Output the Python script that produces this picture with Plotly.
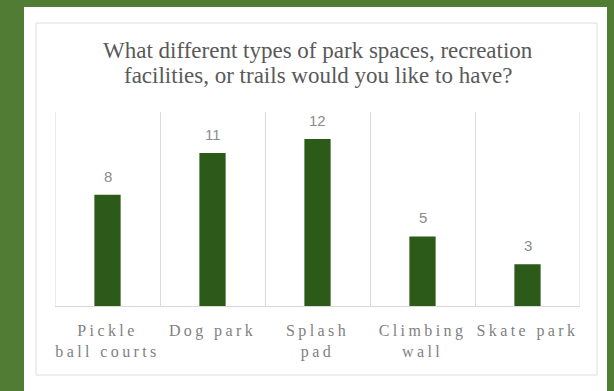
import plotly.graph_objects as go

# Survey responses: requested park spaces / facilities
categories = ["Pickle<br>ball courts", "Dog park", "Splash<br>pad", "Climbing<br>wall", "Skate park"]
responses = [8, 11, 12, 5, 3]
title_lines = [
    "What different types of park spaces, recreation",
    "facilities, or trails would you like to have?",
]

W, H = 614, 391
M_L, M_R, M_T, M_B = 55, 34, 112, 85
PW, PH = W - M_L - M_R, H - M_T - M_B


def px_x(px):
    return (px - M_L) / PW


def px_y(py):
    return (H - M_B - py) / PH


BAR_GREEN = "#2c5a18"
FRAME_GREEN = "#507c33"
GRID = "#d9d9d9"

fig = go.Figure()
fig.add_trace(go.Bar(
    x=categories,
    y=responses,
    marker=dict(color=BAR_GREEN, line=dict(width=0)),
    hoverinfo="skip",
))

# value labels above each bar
for cat, val in zip(categories, responses):
    fig.add_annotation(
        x=cat, y=val, text=str(val), showarrow=False,
        yanchor="bottom", yshift=8,
        font=dict(family="Liberation Sans", size=15, color="#8c8c8c"),
    )

# two-line chart title, set as separate lines for tighter leading
TITLE_SIZE = 23
for i, line in enumerate(title_lines):
    baseline = 58 + 25 * i
    fig.add_annotation(
        xref="paper", yref="paper", x=px_x(317.5), y=px_y(baseline - 0.3375 * TITLE_SIZE),
        text=line, showarrow=False, xanchor="center", yanchor="middle",
        font=dict(family="Liberation Serif", size=TITLE_SIZE, color="#595959"),
    )

# white card and its thin light frame
fig.add_shape(type="rect", xref="paper", yref="paper", layer="below",
              x0=px_x(24), x1=px_x(607), y0=px_y(H + 5), y1=px_y(7),
              fillcolor="white", line=dict(width=0))
fig.add_shape(type="rect", xref="paper", yref="paper", layer="below",
              x0=px_x(36), x1=px_x(597), y0=px_y(375), y1=px_y(23),
              fillcolor="rgba(0,0,0,0)", line=dict(color="#dcdcdc", width=1))

# outer category dividers at both plot edges
for edge in (-0.5, len(categories) - 0.5):
    fig.add_shape(type="line", xref="x", yref="paper", layer="below",
                  x0=edge, x1=edge, y0=0, y1=1,
                  line=dict(color=GRID, width=1))

fig.update_layout(
    width=W, height=H,
    margin=dict(l=M_L, r=M_R, t=M_T, b=M_B),
    paper_bgcolor=FRAME_GREEN,
    plot_bgcolor="rgba(0,0,0,0)",
    bargap=0.75,
    showlegend=False,
    xaxis=dict(
        tickson="boundaries", showgrid=True, gridcolor=GRID, gridwidth=1,
        showline=True, linecolor=GRID, linewidth=1,
        ticks="", ticklabelstandoff=10,
        tickfont=dict(family="Liberation Serif", size=16, color="#7f7f7f"),
        range=[-0.5, len(categories) - 0.5],
        fixedrange=True,
    ),
    yaxis=dict(
        range=[0, 13.94], showgrid=False, zeroline=False,
        showticklabels=False, ticks="", fixedrange=True,
    ),
)

spacing_css = (
    "var s=document.createElement('style');"
    "s.textContent='.xtick text{letter-spacing:3.4px;}';"
    "document.head.appendChild(s);"
)
fig.write_html("out.html", post_script=spacing_css, config={"displayModeBar": False})
